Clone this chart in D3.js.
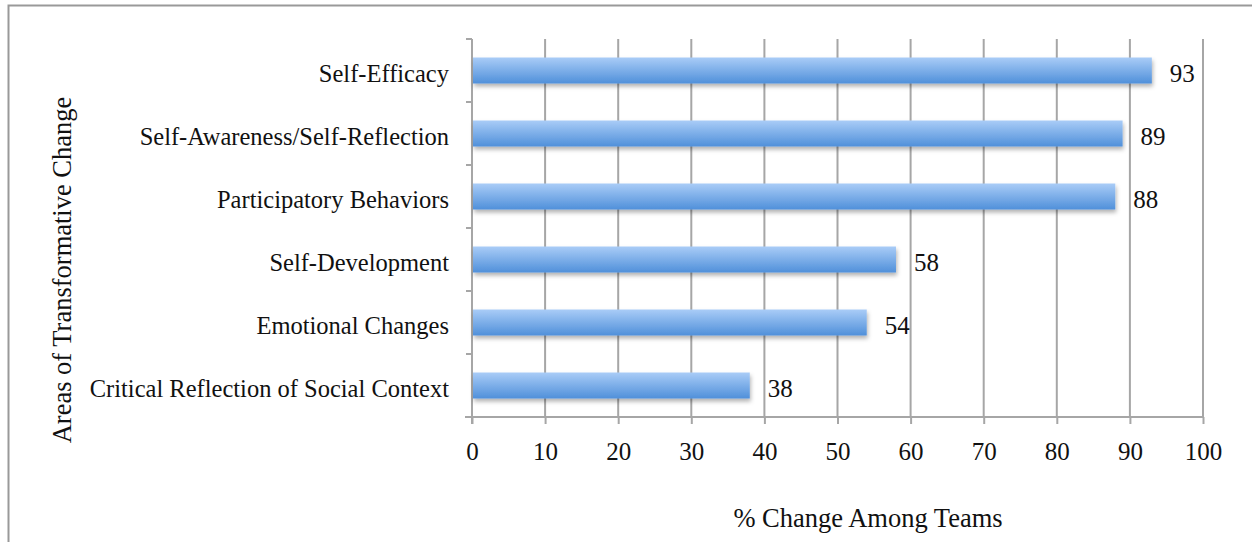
<!DOCTYPE html>
<html>
<head>
<meta charset="utf-8">
<script src="https://cdn.jsdelivr.net/npm/d3@7"></script>
<style>
  body { margin: 0; background: #fff; }
  text { font-family: "Liberation Serif", "DejaVu Serif", serif; fill: #111; }
</style>
</head>
<body>
<div id="chart"></div>
<script>
// data
var categories = ["Self-Efficacy", "Self-Awareness/Self-Reflection", "Participatory Behaviors",
                  "Self-Development", "Emotional Changes", "Critical Reflection of Social Context"];
var values = [93, 89, 88, 58, 54, 38];
var xTicks = [0, 10, 20, 30, 40, 50, 60, 70, 80, 90, 100];

var width = 1252, height = 542;
var mLeft = 472, mRight = 1203, mTop = 39, mBottom = 417;

var svg = d3.select("#chart").append("svg")
  .attr("width", width)
  .attr("height", height);

// outer frame
svg.append("path")
  .attr("d", "M8.5," + height + " V5.5 H" + width)
  .attr("fill", "none")
  .attr("stroke", "#999")
  .attr("stroke-width", 2);

var defs = svg.append("defs");
var grad = defs.append("linearGradient")
  .attr("id", "barGrad")
  .attr("x1", 0).attr("y1", 0).attr("x2", 0).attr("y2", 1);
grad.append("stop").attr("offset", "0%").attr("stop-color", "#a9ccf7");
grad.append("stop").attr("offset", "100%").attr("stop-color", "#5090da");

var shadow = defs.append("filter").attr("id", "shadow")
  .attr("x", "-5%").attr("y", "-20%").attr("width", "110%").attr("height", "160%");
shadow.append("feDropShadow")
  .attr("dx", 1).attr("dy", 3).attr("stdDeviation", 2)
  .attr("flood-color", "#000").attr("flood-opacity", 0.3);

var x = d3.scaleLinear().domain([0, 100]).range([mLeft, mRight]);
var yb = d3.scaleBand().domain(categories).range([mTop, mBottom]);

// vertical gridlines
svg.append("g")
  .selectAll("line")
  .data(xTicks.slice(1))
  .enter()
  .append("line")
  .attr("x1", function(d) { return x(d); })
  .attr("x2", function(d) { return x(d); })
  .attr("y1", mTop)
  .attr("y2", mBottom)
  .attr("stroke", "#a6a6a6")
  .attr("stroke-width", 2);

// x axis
var xAxis = svg.append("g")
  .attr("transform", "translate(0," + mBottom + ")")
  .call(d3.axisBottom(x).tickValues(xTicks).tickSize(7).tickPadding(18));
xAxis.select(".domain").attr("stroke", "#a6a6a6").attr("stroke-width", 2)
  .attr("d", "M" + (mLeft - 7) + ",0H" + mRight);
xAxis.selectAll(".tick line").attr("stroke", "#a6a6a6").attr("stroke-width", 2);
xAxis.selectAll("text").style("font-size", "25px").attr("fill", "#111");

// y axis line + ticks at band boundaries
svg.append("line")
  .attr("x1", mLeft).attr("x2", mLeft)
  .attr("y1", mTop).attr("y2", mBottom + 7)
  .attr("stroke", "#a6a6a6").attr("stroke-width", 2);
svg.append("g")
  .selectAll("line")
  .data(categories)
  .enter()
  .append("line")
  .attr("x1", mLeft - 6).attr("x2", mLeft)
  .attr("y1", function(d) { return yb(d); })
  .attr("y2", function(d) { return yb(d); })
  .attr("stroke", "#a6a6a6").attr("stroke-width", 2);

// category labels
svg.append("g")
  .selectAll("text")
  .data(categories)
  .enter()
  .append("text")
  .attr("x", 449)
  .attr("y", function(d) { return yb(d) + yb.bandwidth() / 2; })
  .attr("dy", "0.45em")
  .attr("text-anchor", "end")
  .style("font-size", "24.5px")
  .text(function(d) { return d; });

// bars
svg.append("g")
  .selectAll("rect")
  .data(values)
  .enter()
  .append("rect")
  .attr("x", x(0) + 1)
  .attr("y", function(d, i) { return yb(categories[i]) + yb.bandwidth() / 2 - 13; })
  .attr("width", function(d) { return x(d) - x(0) - 1; })
  .attr("height", 26)
  .attr("fill", "url(#barGrad)")
  .attr("filter", "url(#shadow)");

// value labels
svg.append("g")
  .selectAll("text")
  .data(values)
  .enter()
  .append("text")
  .attr("x", function(d) { return x(d) + 18; })
  .attr("y", function(d, i) { return yb(categories[i]) + yb.bandwidth() / 2; })
  .attr("dy", "0.47em")
  .style("font-size", "25px")
  .text(function(d) { return d; });

// axis titles
svg.append("text")
  .attr("x", 868)
  .attr("y", 527)
  .attr("text-anchor", "middle")
  .style("font-size", "26.5px")
  .text("% Change Among Teams");

svg.append("text")
  .attr("transform", "translate(71,270) rotate(-90)")
  .attr("text-anchor", "middle")
  .style("font-size", "26.5px")
  .text("Areas of Transformative Change");
</script>
</body>
</html>
